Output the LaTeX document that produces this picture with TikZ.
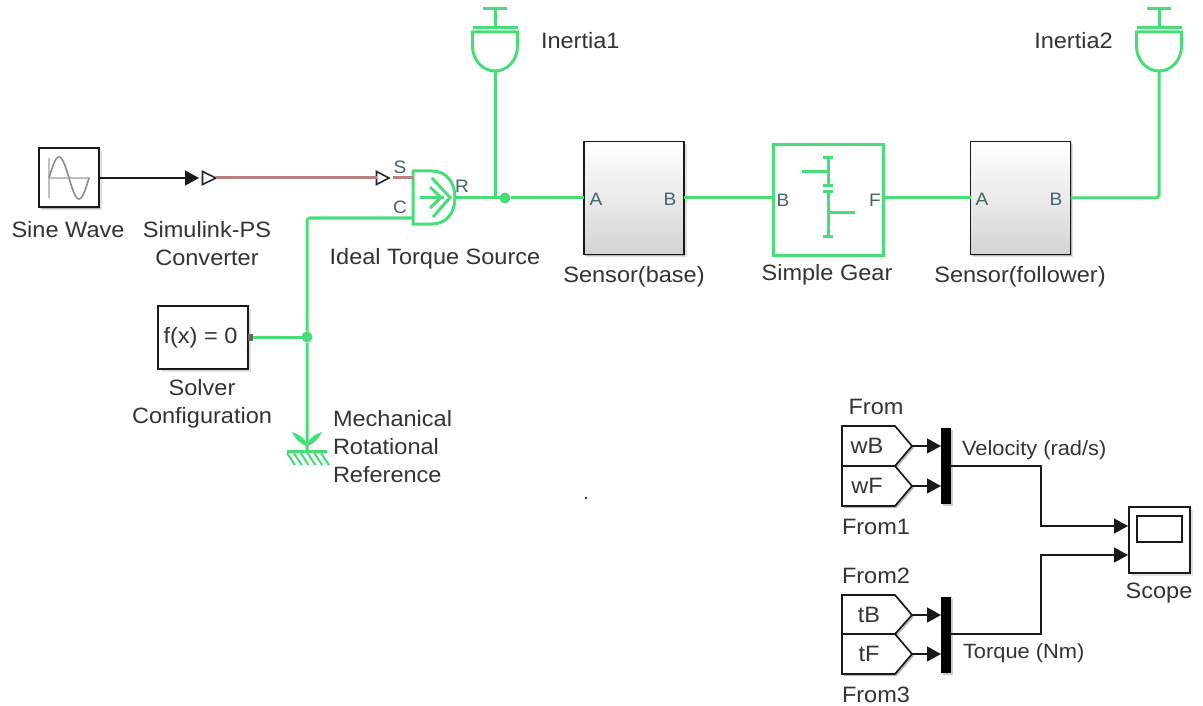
\documentclass[tikz,border=0pt]{standalone}
\usepackage{fontspec}
\setmainfont[FakeStretch=1.06]{Liberation Sans}
\usetikzlibrary{arrows.meta,shadows}
\definecolor{pgreen}{HTML}{48DD78}
\definecolor{pred}{HTML}{B98084}
\definecolor{txt}{HTML}{333333}
\definecolor{portc}{HTML}{46626A}
\tikzset{
  x=1pt,y=-1pt,
  every node/.style={inner sep=0pt,outer sep=0pt},
  lbl/.style={text=txt,align=center,yshift=-1.5pt,font=\fontsize{22.2}{28}\selectfont},
  lbll/.style={lbl,align=left,anchor=west},
  sublbl/.style={lbll,font=\fontsize{20.6}{24}\selectfont},
  port/.style={text=portc,font=\fontsize{18}{20}\selectfont},
  softshadow/.style={drop shadow={shadow xshift=2.5pt,shadow yshift=-2.5pt,fill=black,opacity=.12},drop shadow={shadow xshift=1.2pt,shadow yshift=-1.2pt,fill=black,opacity=.2}},
  blockbox/.style={draw=black!90,line width=2pt,fill=white,softshadow},
  sensorbox/.style={draw=black!90,line width=1.8pt,top color=white,bottom color=black!17,middle color=white!92!black,softshadow},
  mech/.style={draw=pgreen,line width=3pt},
  phys/.style={draw=pred,line width=3pt},
  sig/.style={draw=black!90,line width=1.6pt},
  sigarrow/.style={sig,-{Triangle[length=14pt,width=15pt]}},
  fromshape/.style={draw=black!90,line width=1.7pt,fill=white,drop shadow={shadow xshift=2pt,shadow yshift=-2pt,fill=black,opacity=.25}},
  junction/.style={circle,fill=pgreen,minimum size=11pt},
  muxbar/.style={fill=black,minimum width=10pt,drop shadow={shadow xshift=1.8pt,shadow yshift=-1.8pt,fill=black,opacity=.2}},
  inertia/.pic={
    \draw[mech] (-12,9) -- (12,9);
    \draw[mech] (0,9) -- (0,28);
    \draw[mech] (-22.5,28) -- (22.5,28);
    \draw[mech] (-22.5,32) -- (22.5,32) -- (22.5,46)
      .. controls (22.5,60) and (12.5,71) .. (0,71)
      .. controls (-12.5,71) and (-22.5,60) .. (-22.5,46) -- cycle;
  }
}
\begin{document}
\begin{tikzpicture}
\useasboundingbox (0,0) rectangle (1203,706);
\fill[white] (0,0) rectangle (1203,706);

% Blocks
\node[blockbox,minimum width=60pt,minimum height=59pt] (sine) at (69,178) {};
\draw[black!25,line width=1.6pt] (49,158) -- (49,198) (49,178) -- (90,178);
\draw[black!45,line width=1.6pt] plot[domain=0:360,samples=60,smooth] ({49+\x/360*40},{178-21*sin(\x)});
\node[blockbox,minimum width=90pt,minimum height=63pt] (solver) at (203,337.5) {};
\node[text=txt,font=\fontsize{22.2}{24}\selectfont] (solvertxt) at (200.5,338) {f(x) = 0};
\node[sensorbox,minimum width=100pt,minimum height=113pt] (sbase) at (634,198) {};
\node[sensorbox,minimum width=100pt,minimum height=113pt] (sfol) at (1020.5,198) {};
\node[draw=pgreen,line width=3.4pt,fill=white,minimum width=110pt,minimum height=111pt] (gear) at (828.5,200) {};

% Simulink-PS converter
\coordinate (convin) at (199,178);
\coordinate (convtip) at (216,178);
\draw[black!85,line width=1.6pt,fill=white] (202.5,171.5) -- (convtip) -- (202.5,184.5) -- cycle;
% PS input triangle
\coordinate (ptin) at (376.5,178);
\coordinate (pttip) at (389,178);
\draw[black!85,line width=1.6pt,fill=white] (376.5,171.5) -- (pttip) -- (376.5,184.5) -- cycle;

% Ideal torque source
\coordinate (itsS) at (413,178);
\coordinate (itsC) at (413,218);
\coordinate (itsR) at (455,198);
\draw[mech,fill=white] (413,171) -- (432,171) .. controls (447,171) and (455,183) .. (455,197.5)
  .. controls (455,212) and (447,224) .. (432,224) -- (413,224) -- cycle;
\draw[mech] (420,197.5) -- (444,197.5) (432,178) -- (450,197.5) -- (433,217) (430,187) -- (441,197.5) -- (430,208);

% Inertias
\pic at (495,0) {inertia};
\coordinate (in1) at (495,71);
\pic at (1159,0) {inertia};
\coordinate (in2) at (1159,71);

% Gear icon
\draw[mech] (823,158) -- (833,158) (828,158) -- (828,186) (823,186) -- (833,186)
  (823,192) -- (833,192) (828,192) -- (828,236) (823,236) -- (833,236)
  (802,172) -- (828,172) (828,213) -- (855,213);

% Mechanical reference
\coordinate (gnd) at (307,451);
\draw[mech] (287,451) -- (327,451);
\foreach \i in {0,...,5}{
  \draw[pgreen,line width=2.1pt] ({287+\i*6.8},453) -- ({295+\i*6.8},465);
}
\fill[pgreen] (306,446) .. controls (301,444) and (296,440) .. (292,432) .. controls (299,434) and (304,438) .. (306,442) -- cycle;
\fill[pgreen] (308,446) .. controls (313,444) and (318,440) .. (322,432) .. controls (315,434) and (310,438) .. (308,442) -- cycle;

% Junctions
\node[junction] (j1) at (505,198) {};
\node[junction] (j2) at (307,337) {};
\node[fill=black!60,minimum width=5pt,minimum height=7pt] (solverport) at (250.5,337) {};

% Physical wires
\draw[phys] (convtip) -- (ptin);
\draw[phys] ([xshift=4pt]pttip) -- (itsS);
\draw[mech] (itsR) -- (j1) -- (sbase.west);
\draw[mech] (in1) -- (495,198);
\draw[mech] (sbase.east) -- (sbase.east -| gear.west);
\draw[mech] (sfol.west -| gear.east) -- (sfol.west);
\draw[mech,rounded corners=3pt] (sfol.east) -- (1159,198) -- (in2);
\draw[mech,rounded corners=3pt] (itsC) -- (307,218) -- (j2) -- (gnd);
\draw[mech] (solverport) -- (j2);

% Signal wire
\draw[sigarrow] (sine.east) -- (convin);

% From blocks
\coordinate (f1tip) at (912,446);
\coordinate (f2tip) at (912,486);
\coordinate (f3tip) at (912,615);
\coordinate (f4tip) at (912,654);
\draw[fromshape] (842,426) -- (895,426) -- (f1tip) -- (895,466) -- (842,466) -- cycle;
\draw[fromshape] (842,466) -- (895,466) -- (f2tip) -- (895,506) -- (842,506) -- cycle;
\draw[fromshape] (842,595) -- (895,595) -- (f3tip) -- (895,634) -- (842,634) -- cycle;
\draw[fromshape] (842,634) -- (895,634) -- (f4tip) -- (895,674) -- (842,674) -- cycle;

% Mux bars
\node[muxbar,minimum height=76pt] (mux1) at (946,466) {};
\node[muxbar,minimum height=76pt] (mux2) at (946,635) {};

% Scope
\node[blockbox,minimum width=61pt,minimum height=66pt] (scope) at (1159.5,540) {};
\node[draw=black!90,line width=1.6pt,minimum width=45pt,minimum height=26pt,fill=white] (screen) at (1159.5,529) {};
\coordinate (sc1) at (1128,526);
\coordinate (sc2) at (1128,555);

% Signal connections
\draw[sigarrow] (f1tip) -- (941,446);
\draw[sigarrow] (f2tip) -- (941,486);
\draw[sigarrow] (f3tip) -- (941,615);
\draw[sigarrow] (f4tip) -- (941,654);
\draw[sigarrow] (mux1.east) -- (1041,466) -- (1041,526) -- (sc1);
\draw[sigarrow] (951,634) -- (1041,634) -- (1041,555) -- (sc2);

% Stray dot
\fill[black!80] (586,498) circle (1.3);

% Labels
\node[lbl] (l1) at (68,228) {Sine Wave};
\node[lbl] (l2) at (207,242) {Simulink-PS\\Converter};
\node[lbl] (l3) at (435,257.5) {Ideal Torque Source};
\node[lbl] (l4) at (634,275) {Sensor(base)};
\node[lbl] (l5) at (827,273) {Simple Gear};
\node[lbl] (l6) at (1020,275) {Sensor(follower)};
\node[lbl] (l7) at (202,402) {Solver\\Configuration};
\node[lbll] (l8) at (333,445.5) {Mechanical\\Rotational\\Reference};
\node[lbll] (l9) at (541,39) {Inertia1};
\node[lbl] (l10) at (1073.5,39) {Inertia2};
\node[lbl] (l11) at (876,405) {From};
\node[lbl] (l12) at (876,525) {From1};
\node[lbl] (l13) at (876,574) {From2};
\node[lbl] (l14) at (876,693) {From3};
\node[lbl] (l15) at (867,444.5) {wB};
\node[lbl] (l16) at (867,484.5) {wF};
\node[lbl] (l17) at (869,613.5) {tB};
\node[lbl] (l18) at (869,652.5) {tF};
\node[sublbl] (l19) at (962,449) {Velocity (rad/s)};
\node[sublbl] (l20) at (963,652) {Torque (Nm)};
\node[lbl] (l21) at (1159,592) {Scope};

% Port labels
\node[port] (p1) at (400,167) {S};
\node[port] (p2) at (400,207) {C};
\node[port] (p3) at (462,186) {R};
\node[port] (p4) at (596,199) {A};
\node[port] (p5) at (670,199) {B};
\node[port] (p6) at (783,200) {B};
\node[port] (p7) at (875,200) {F};
\node[port] (p8) at (982,199) {A};
\node[port] (p9) at (1056,199) {B};
\end{tikzpicture}
\end{document}
